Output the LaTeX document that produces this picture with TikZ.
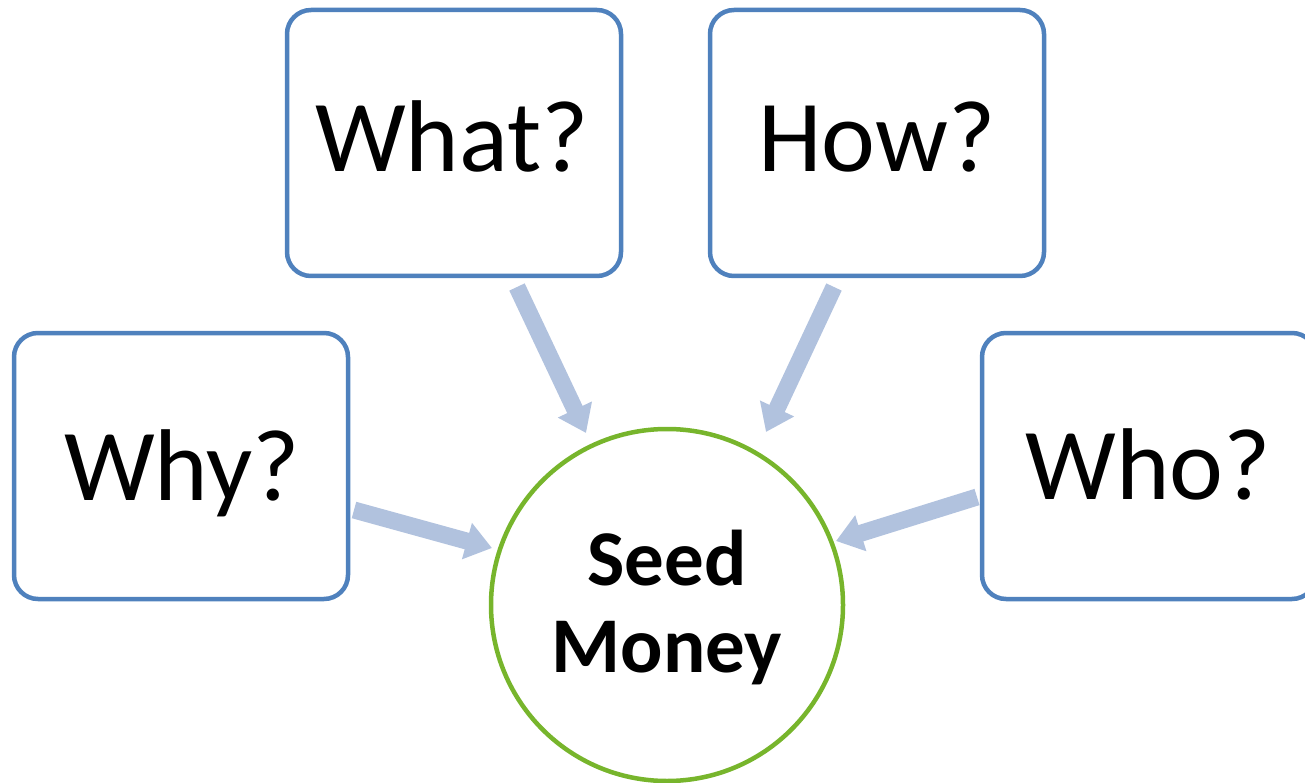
\documentclass[tikz,border=0pt]{standalone}
\usepackage{fontspec}
\setmainfont{Carlito}
\usetikzlibrary{arrows.meta}
\definecolor{boxblue}{HTML}{4F81BD}
\definecolor{ringgreen}{HTML}{77B52C}
\definecolor{arrowblue}{HTML}{B1C2DE}
\tikzset{
  qbox/.style={draw=boxblue, line width=4.5pt, rounded corners=24pt, minimum width=334pt, minimum height=266pt, inner sep=0pt, fill=white},
  qtext/.style={anchor=base, inner sep=0pt, font=\fontsize{102}{122}\selectfont},
  stext/.style={anchor=base, inner sep=0pt, font=\bfseries\fontsize{79}{92}\selectfont},
  ring/.style={draw=ringgreen, line width=4.5pt, circle, minimum size=352pt, inner sep=0pt, fill=white},
  fatarrow/.style={draw=arrowblue, line width=17pt, -{Triangle[width=36pt,length=26pt]}},
}
\begin{document}
\begin{tikzpicture}[x=1pt,y=-1pt]
\useasboundingbox (0,0) rectangle (1305,783);
\begin{scope}
\clip (0,0) rectangle (1305,783);
\node[qbox] (what) at (454,143) {};
\node[qbox] (how) at (877,143) {};
\node[qbox] (why) at (181,466) {};
\node[qbox] (who) at (1149,466) {};
\node[ring] (seed) at (667,605) {};
\node[qtext] (whatt) at (452,172) {What?};
\node[qtext] (howt) at (877,172) {How?};
\node[qtext] (whyt) at (182,500) {Why?};
\node[qtext] (whot) at (1148,499) {Who?};
\node[stext] (seedt) at (667,585) {Seed};
\node[stext] (moneyt) at (667,672) {Money};
\coordinate (whyA) at (354,510);
\coordinate (whyB) at (492,548);
\coordinate (whatA) at (517,287);
\coordinate (whatB) at (586,433);
\coordinate (howA) at (834,287);
\coordinate (howB) at (766,432);
\coordinate (whoA) at (977,497);
\coordinate (whoB) at (836,541);
\draw[fatarrow] (whyA) -- (whyB);
\draw[fatarrow] (whatA) -- (whatB);
\draw[fatarrow] (howA) -- (howB);
\draw[fatarrow] (whoA) -- (whoB);
\end{scope}
\end{tikzpicture}
\end{document}
